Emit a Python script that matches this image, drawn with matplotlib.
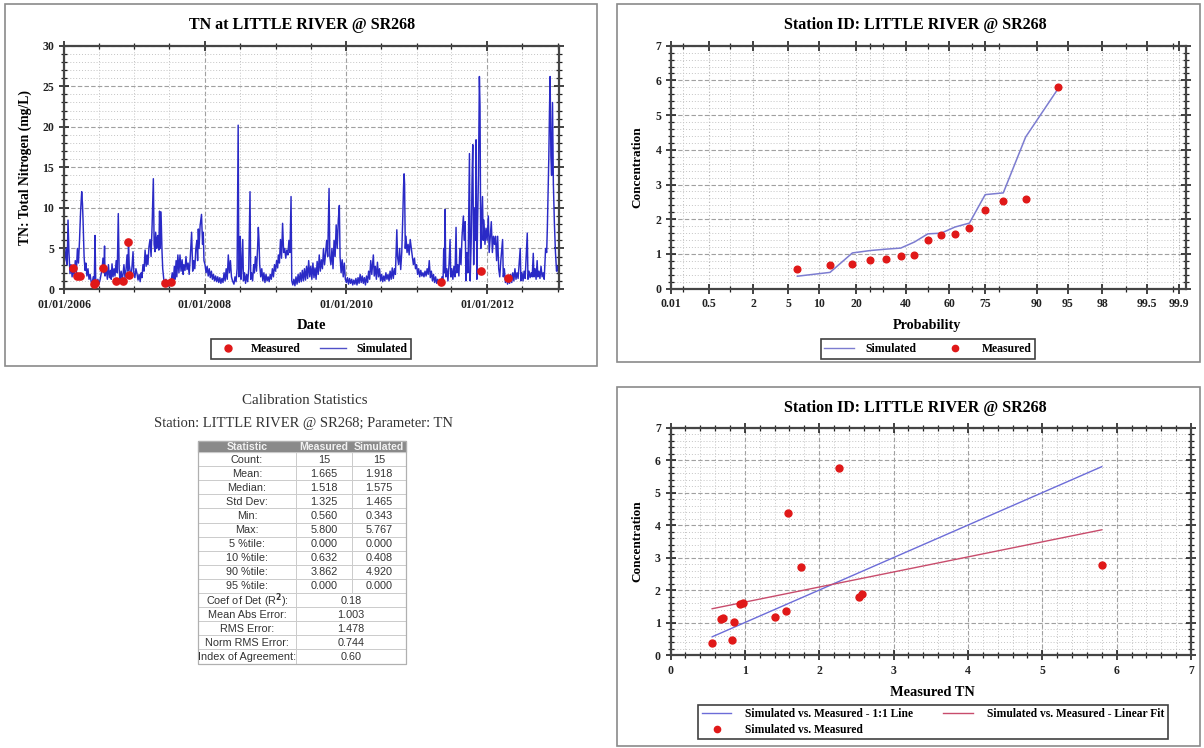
import matplotlib
matplotlib.use("Agg")
import matplotlib.pyplot as plt
import matplotlib.dates as mdates
from matplotlib.patches import Rectangle
from matplotlib.lines import Line2D
from matplotlib.ticker import MultipleLocator, FixedLocator, FixedFormatter
from statistics import NormalDist
import numpy as np
import pandas as pd

# ---- simulated daily TN (read off the chart as peaks / troughs, decimal year) ----
sim_t = [
    2006.000, 2006.014, 2006.030, 2006.045, 2006.057, 2006.070, 2006.085, 2006.100, 2006.115, 2006.128,
    2006.145, 2006.160, 2006.175, 2006.190, 2006.205, 2006.220, 2006.235, 2006.251, 2006.262, 2006.270,
    2006.285, 2006.298, 2006.310, 2006.325, 2006.340, 2006.355, 2006.370, 2006.385, 2006.397, 2006.415,
    2006.430, 2006.440, 2006.450, 2006.468, 2006.480, 2006.495, 2006.511, 2006.525, 2006.539, 2006.553,
    2006.565, 2006.575, 2006.582, 2006.600, 2006.615, 2006.630, 2006.645, 2006.660, 2006.670, 2006.681,
    2006.695, 2006.710, 2006.723, 2006.740, 2006.755, 2006.770, 2006.782, 2006.794, 2006.810, 2006.825,
    2006.837, 2006.850, 2006.865, 2006.880, 2006.894, 2006.905, 2006.915, 2006.925, 2006.936, 2006.950,
    2006.965, 2006.979, 2006.990, 2007.005, 2007.020, 2007.035, 2007.050, 2007.065, 2007.080, 2007.095,
    2007.106, 2007.120, 2007.135, 2007.150, 2007.165, 2007.177, 2007.190, 2007.205, 2007.220, 2007.235,
    2007.250, 2007.267, 2007.278, 2007.291, 2007.300, 2007.315, 2007.325, 2007.333, 2007.345, 2007.355,
    2007.365, 2007.376, 2007.390, 2007.400, 2007.415, 2007.433, 2007.445, 2007.460, 2007.475, 2007.490,
    2007.505, 2007.520, 2007.535, 2007.550, 2007.565, 2007.574, 2007.590, 2007.600, 2007.615, 2007.630,
    2007.645, 2007.660, 2007.675, 2007.690, 2007.700, 2007.716, 2007.730, 2007.745, 2007.760, 2007.775,
    2007.790, 2007.810, 2007.825, 2007.840, 2007.855, 2007.870, 2007.885, 2007.895, 2007.905, 2007.915,
    2007.930, 2007.950, 2007.965, 2007.975, 2007.985, 2008.000, 2008.015, 2008.030, 2008.045, 2008.060,
    2008.075, 2008.090, 2008.105, 2008.120, 2008.135, 2008.150, 2008.165, 2008.180, 2008.195, 2008.210,
    2008.225, 2008.240, 2008.255, 2008.270, 2008.285, 2008.300, 2008.315, 2008.330, 2008.345, 2008.360,
    2008.375, 2008.390, 2008.410, 2008.425, 2008.440, 2008.455, 2008.470, 2008.480, 2008.490, 2008.500,
    2008.510, 2008.520, 2008.535, 2008.545, 2008.560, 2008.575, 2008.590, 2008.605, 2008.620, 2008.638,
    2008.648, 2008.660, 2008.675, 2008.690, 2008.700, 2008.715, 2008.730, 2008.745, 2008.756, 2008.765,
    2008.775, 2008.790, 2008.805, 2008.820, 2008.835, 2008.850, 2008.865, 2008.880, 2008.895, 2008.910,
    2008.925, 2008.940, 2008.955, 2008.970, 2008.985, 2009.000, 2009.015, 2009.030, 2009.040, 2009.055,
    2009.070, 2009.085, 2009.100, 2009.115, 2009.130, 2009.145, 2009.160, 2009.175, 2009.190, 2009.205,
    2009.220, 2009.230, 2009.245, 2009.260, 2009.275, 2009.290, 2009.305, 2009.320, 2009.335, 2009.350,
    2009.365, 2009.380, 2009.395, 2009.410, 2009.425, 2009.440, 2009.455, 2009.470, 2009.485, 2009.500,
    2009.515, 2009.530, 2009.545, 2009.560, 2009.575, 2009.590, 2009.605, 2009.620, 2009.635, 2009.650,
    2009.665, 2009.680, 2009.695, 2009.710, 2009.725, 2009.740, 2009.759, 2009.770, 2009.785, 2009.800,
    2009.815, 2009.830, 2009.845, 2009.860, 2009.875, 2009.890, 2009.905, 2009.915, 2009.930, 2009.945,
    2009.960, 2009.975, 2009.990, 2010.005, 2010.020, 2010.035, 2010.050, 2010.065, 2010.080, 2010.095,
    2010.110, 2010.125, 2010.140, 2010.155, 2010.170, 2010.185, 2010.200, 2010.215, 2010.230, 2010.245,
    2010.260, 2010.275, 2010.290, 2010.305, 2010.320, 2010.335, 2010.350, 2010.365, 2010.387, 2010.400,
    2010.415, 2010.430, 2010.445, 2010.460, 2010.475, 2010.490, 2010.505, 2010.520, 2010.535, 2010.550,
    2010.565, 2010.580, 2010.595, 2010.610, 2010.625, 2010.640, 2010.655, 2010.670, 2010.685, 2010.700,
    2010.720, 2010.730, 2010.745, 2010.760, 2010.775, 2010.790, 2010.805, 2010.815, 2010.823, 2010.830,
    2010.840, 2010.850, 2010.865, 2010.880, 2010.895, 2010.910, 2010.925, 2010.940, 2010.955, 2010.970,
    2010.985, 2011.000, 2011.015, 2011.030, 2011.045, 2011.060, 2011.075, 2011.090, 2011.105, 2011.120,
    2011.135, 2011.150, 2011.165, 2011.180, 2011.195, 2011.210, 2011.225, 2011.240, 2011.255, 2011.270,
    2011.285, 2011.300, 2011.315, 2011.330, 2011.345, 2011.360, 2011.375, 2011.385, 2011.395, 2011.404,
    2011.415, 2011.430, 2011.445, 2011.460, 2011.475, 2011.485, 2011.500, 2011.515, 2011.530, 2011.545,
    2011.560, 2011.570, 2011.585, 2011.600, 2011.615, 2011.630, 2011.645, 2011.664, 2011.675, 2011.690,
    2011.700, 2011.715, 2011.730, 2011.750, 2011.760, 2011.775, 2011.787, 2011.797, 2011.810, 2011.820,
    2011.835, 2011.844, 2011.855, 2011.865, 2011.878, 2011.891, 2011.900, 2011.910, 2011.920, 2011.935,
    2011.945, 2011.955, 2011.970, 2011.985, 2012.000, 2012.018, 2012.030, 2012.045, 2012.060, 2012.075,
    2012.090, 2012.105, 2012.120, 2012.135, 2012.150, 2012.165, 2012.180, 2012.195, 2012.220, 2012.230,
    2012.245, 2012.260, 2012.275, 2012.290, 2012.305, 2012.320, 2012.335, 2012.350, 2012.365, 2012.380,
    2012.395, 2012.410, 2012.425, 2012.440, 2012.470, 2012.480, 2012.495, 2012.510, 2012.525, 2012.540,
    2012.570, 2012.580, 2012.595, 2012.610, 2012.625, 2012.640, 2012.655, 2012.665, 2012.680, 2012.695,
    2012.710, 2012.720, 2012.735, 2012.750, 2012.765, 2012.780, 2012.795, 2012.810, 2012.830, 2012.845,
    2012.855, 2012.865, 2012.875, 2012.885, 2012.894, 2012.905, 2012.915, 2012.928, 2012.940, 2012.955,
    2012.970, 2012.985, 2013.000, 2013.015,
]
sim_v = [
    3.2, 3.6, 5.0, 3.0, 8.5, 4.5, 1.9, 3.0, 1.5, 2.7,
    1.6, 3.5, 2.0, 5.0, 3.2, 6.0, 9.5, 12.0, 10.5, 8.5,
    4.0, 2.3, 3.2, 1.6, 2.5, 1.2, 1.8, 0.9, 0.6, 1.5,
    0.8, 6.6, 1.0, 0.3, 1.2, 0.6, 1.1, 1.8, 2.3, 3.8,
    2.0, 5.3, 1.6, 2.5, 1.2, 3.0, 1.4, 2.3, 1.2, 3.1,
    1.5, 2.5, 1.6, 3.5, 2.0, 9.3, 2.5, 1.0, 2.2, 1.2,
    1.8, 3.0, 1.4, 2.4, 4.2, 2.2, 5.5, 3.0, 2.3, 1.4,
    2.8, 4.6, 2.0, 1.4, 2.5, 1.9, 1.1, 1.8, 0.9, 2.0,
    1.4, 3.0, 2.2, 4.8, 2.8, 4.2, 3.0, 5.2, 6.1, 4.0,
    8.0, 13.6, 5.5, 4.6, 7.0, 5.0, 6.4, 6.6, 4.8, 9.6,
    5.0, 9.5, 4.6, 2.5, 1.2, 0.7, 1.2, 0.5, 0.3, 0.9,
    0.5, 1.0, 2.0, 1.0, 2.8, 1.2, 3.5, 1.5, 4.2, 2.0,
    4.2, 2.2, 3.6, 1.8, 3.0, 2.3, 4.0, 2.4, 3.2, 1.8,
    3.8, 7.0, 2.2, 3.5, 2.5, 5.0, 6.0, 3.5, 7.4, 5.0,
    7.8, 9.2, 5.5, 7.0, 3.5, 3.0, 2.0, 2.8, 1.6, 2.5,
    1.4, 2.2, 1.2, 1.8, 1.0, 1.6, 0.9, 1.5, 0.8, 1.4,
    0.7, 1.3, 0.8, 2.0, 1.0, 2.5, 1.2, 4.2, 2.0, 3.5,
    1.5, 1.0, 0.6, 1.5, 0.9, 2.5, 20.2, 1.5, 3.0, 6.5,
    1.2, 2.5, 6.1, 1.0, 2.0, 0.7, 1.8, 0.9, 2.5, 12.0,
    1.2, 2.0, 1.0, 3.0, 2.0, 4.0, 2.2, 5.0, 7.6, 6.1,
    3.0, 1.5, 2.5, 1.0, 2.0, 0.8, 1.8, 1.0, 1.5, 0.9,
    1.8, 1.2, 2.5, 1.5, 3.0, 2.2, 3.5, 2.6, 4.2, 3.2,
    6.1, 3.8, 8.1, 4.5, 5.0, 3.8, 4.8, 4.2, 6.0, 4.5,
    11.4, 1.0, 0.5, 1.2, 0.4, 1.5, 0.6, 1.8, 0.8, 2.0,
    0.9, 2.3, 1.0, 2.5, 1.1, 2.8, 1.3, 3.5, 1.5, 2.8,
    1.2, 3.2, 1.4, 2.6, 1.2, 3.4, 1.8, 4.2, 2.2, 3.6,
    2.5, 5.0, 3.0, 4.4, 6.0, 4.0, 12.4, 4.0, 3.0, 5.0,
    2.5, 6.0, 4.0, 7.9, 5.0, 8.5, 10.3, 4.0, 2.0, 3.6,
    1.5, 3.2, 1.2, 0.8, 1.4, 0.6, 1.3, 0.7, 1.2, 0.5,
    1.1, 0.6, 1.3, 0.5, 1.4, 0.7, 1.8, 0.8, 1.6, 0.7,
    1.4, 0.5, 1.6, 0.8, 2.2, 1.2, 3.5, 1.8, 4.2, 1.6,
    2.8, 1.2, 3.3, 1.5, 2.5, 1.0, 1.8, 0.9, 1.6, 1.0,
    2.0, 1.2, 1.8, 1.0, 2.2, 1.2, 2.6, 1.3, 2.5, 1.8,
    7.3, 4.0, 3.0, 5.0, 2.4, 4.5, 9.0, 12.5, 14.2, 13.0,
    5.0, 6.5, 4.5, 5.5, 4.2, 6.1, 5.0, 4.0, 3.0, 3.8,
    2.5, 3.0, 1.8, 2.5, 1.5, 2.3, 1.6, 2.0, 1.5, 2.2,
    1.6, 2.5, 1.8, 3.5, 1.4, 2.2, 1.0, 1.8, 0.8, 1.5,
    0.7, 1.2, 0.6, 1.0, 0.5, 1.5, 0.8, 5.0, 2.0, 9.8,
    1.5, 2.5, 1.0, 3.0, 6.1, 1.5, 2.5, 1.2, 2.8, 1.5,
    7.6, 2.0, 3.0, 1.6, 5.0, 3.0, 6.5, 9.0, 6.0, 8.3,
    1.0, 4.5, 2.0, 16.7, 1.0, 6.0, 13.5, 17.8, 3.0, 10.0,
    6.0, 18.4, 1.2, 8.0, 14.0, 26.2, 22.5, 5.0, 8.0, 11.4,
    6.0, 8.5, 5.5, 7.5, 6.0, 9.0, 4.5, 6.5, 8.3, 4.5,
    6.5, 5.5, 6.5, 3.5, 6.5, 2.5, 1.5, 3.5, 6.1, 1.5,
    2.5, 0.8, 1.5, 0.6, 1.2, 0.7, 1.8, 0.8, 2.0, 1.0,
    2.5, 1.2, 2.0, 1.3, 5.0, 1.0, 2.0, 1.0, 2.2, 1.3,
    6.9, 1.2, 2.2, 1.4, 2.0, 1.5, 4.4, 1.5, 2.5, 1.2,
    3.5, 1.5, 2.2, 1.3, 2.8, 1.5, 2.0, 1.2, 5.0, 4.5,
    7.6, 12.0, 16.0, 22.0, 26.2, 16.4, 14.0, 23.0, 13.0, 8.0,
    4.5, 2.2, 2.8, 1.8,
]

# ---- measured samples (time order) and simulated value on the same day ----
meas_t = [2006.13, 2006.18, 2006.22, 2006.42, 2006.44, 2006.56, 2006.74, 2006.83,
          2006.91, 2006.915, 2007.43, 2007.52, 2011.35, 2011.92, 2012.29]
meas_v = [2.575, 1.56, 1.58, 0.56, 0.68, 2.53, 0.94, 0.97,
          5.80, 1.75, 0.70, 0.83, 0.855, 2.26, 1.40]
sim_at_meas = [1.89, 1.345, 4.37, 0.36, 1.10, 1.776, 1.58, 1.60,
               2.76, 2.71, 1.14, 0.47, 1.03, 5.77, 1.17]

# plotting positions (percent) used on the probability chart
prob_pct = [6.25, 12.5, 18.75, 25.0, 31.25, 37.5, 43.75, 50.0,
            56.25, 62.5, 68.75, 75.0, 81.25, 87.5, 93.75]
prob_labels = ["0.01", "0.5", "2", "5", "10", "20", "40", "60", "75", "90", "95", "98", "99.5", "99.9"]
prob_minor = [0.2, 1, 25, 30, 50, 70, 80, 99, 99.8]

stat_rows = ["Count:", "Mean:", "Median:", "Std Dev:", "Min:", "Max:", "5 %tile:",
             "10 %tile:", "90 %tile:", "95 %tile:"]
stat_meas = ["15", "1.665", "1.518", "1.325", "0.560", "5.800", "0.000", "0.632", "3.862", "0.000"]
stat_sim = ["15", "1.918", "1.575", "1.465", "0.343", "5.767", "0.000", "0.408", "4.920", "0.000"]
fit_rows = ["Coef of Det (R$^2$):", "Mean Abs Error:", "RMS Error:", "Norm RMS Error:", "Index of Agreement:"]
fit_vals = ["0.18", "1.003", "1.478", "0.744", "0.60"]

W, H = 1204, 748
plt.rcParams["font.family"] = "Liberation Serif"
plt.rcParams["font.weight"] = "bold"
RED = "#e01818"


def rect(l, t, r, b):
    return [l / W, 1 - b / H, (r - l) / W, (b - t) / H]


def style(ax):
    for s in ax.spines.values():
        s.set_linewidth(1.6)
        s.set_color("#454545")
    ax.tick_params(which="both", direction="inout", top=True, right=True,
                   labelsize=8.5, colors="#222222")
    ax.tick_params(which="major", length=7, width=1.2)
    ax.tick_params(which="minor", length=4, width=0.9)
    ax.grid(which="major", ls=(0, (4, 2)), color="#a0a0a0", lw=0.8)
    ax.grid(which="minor", ls=(0, (1, 2)), color="#c4c4c4", lw=0.7)
    ax.set_axisbelow(True)


fig = plt.figure(figsize=(12.04, 7.48), dpi=100)
bg = fig.add_axes([0, 0, 1, 1])
bg.set_xlim(0, W)
bg.set_ylim(H, 0)
bg.axis("off")
for l, t, r, b in [(5, 4, 597, 366), (617, 4, 1200, 362), (617, 387, 1200, 746)]:
    bg.add_patch(Rectangle((l, t), r - l, b - t, fill=False, ec="#8a8a8a", lw=1.2))

# ---------------- time series ----------------
ax1 = fig.add_axes(rect(64, 45.7, 559, 289))
t0 = mdates.date2num(pd.Timestamp("2006-01-01"))
def yr2num(y):
    return t0 + (np.asarray(y) - 2006.0) * 365.25
ax1.plot(yr2num(sim_t), sim_v, color="#2a2ac6", lw=1.05, label="Simulated")
ax1.plot(yr2num(meas_t), meas_v, "o", color=RED, ms=5.2, label="Measured", zorder=5)
ax1.set_xlim(yr2num(2006.0), yr2num(2013.02))
ax1.set_ylim(0, 30)
ax1.xaxis.set_major_locator(mdates.YearLocator(base=2, month=1, day=1))
ax1.xaxis.set_major_formatter(mdates.DateFormatter("%m/%d/%Y"))
ax1.xaxis.set_minor_locator(mdates.MonthLocator(bymonth=[1, 7]))
ax1.yaxis.set_major_locator(MultipleLocator(5))
ax1.yaxis.set_minor_locator(MultipleLocator(1))
style(ax1)
h1 = [Line2D([], [], marker="o", ls="", color=RED, ms=5),
      Line2D([], [], color="#5050c8", lw=1)]
leg = ax1.legend(h1, ["Measured", "Simulated"], ncol=2, loc="center",
                 bbox_to_anchor=(311 / W, 1 - 349 / H), bbox_transform=fig.transFigure,
                 fancybox=False, edgecolor="#111111", fontsize=8.5, handlelength=2.2,
                 columnspacing=1.6, borderpad=0.3, handletextpad=0.9)
leg.get_frame().set_linewidth(1.2)

bg.text(302, 25, "TN at LITTLE RIVER @ SR268", ha="center", va="center", fontsize=11.5)
bg.text(311, 325, "Date", ha="center", va="center", fontsize=10.6)
bg.text(25, 167, "TN: Total Nitrogen (mg/L)", ha="center", va="center", rotation=90, fontsize=9.8)

# ---------------- probability plot ----------------
nd = NormalDist()
zlo, zhi = -3.02, 3.03
ax2 = fig.add_axes(rect(671, 45.7, 1185.5, 288.7))
meas_sorted = np.sort(meas_v)
sim_sorted = np.sort(sim_at_meas)
zpos = [nd.inv_cdf(p / 100) for p in prob_pct]
ax2.plot(zpos, sim_sorted, color="#7c7cd0", lw=1.1)
ax2.plot(zpos, meas_sorted, "o", color=RED, ms=4.8, zorder=5)
ax2.set_xlim(zlo, zhi)
ax2.set_ylim(0, 7)
major_z = [min(max(nd.inv_cdf(float(s) / 100), zlo), zhi - 0.08) for s in prob_labels]
ax2.xaxis.set_major_locator(FixedLocator(major_z))
ax2.xaxis.set_major_formatter(FixedFormatter(prob_labels))
ax2.xaxis.set_minor_locator(FixedLocator([nd.inv_cdf(p / 100) for p in prob_minor]))
ax2.yaxis.set_major_locator(MultipleLocator(1))
ax2.yaxis.set_minor_locator(MultipleLocator(0.2))
style(ax2)
ax2.grid(which="major", axis="x", ls=(0, (1, 2)), color="#b0b0b0", lw=0.8)
h2 = [Line2D([], [], color="#7c7cd0", lw=1),
      Line2D([], [], marker="o", ls="", color=RED, ms=4.5)]
leg = ax2.legend(h2, ["Simulated", "Measured"], ncol=2, loc="center",
                 bbox_to_anchor=(928 / W, 1 - 349 / H), bbox_transform=fig.transFigure,
                 fancybox=False, edgecolor="#111111", fontsize=8.5, handlelength=2.5,
                 columnspacing=2.0, borderpad=0.3, handletextpad=1.0)
leg.get_frame().set_linewidth(1.2)

bg.text(915, 25, "Station ID: LITTLE RIVER @ SR268", ha="center", va="center", fontsize=11.5)
bg.text(927, 325, "Probability", ha="center", va="center", fontsize=10.2)
bg.text(637, 167, "Concentration", ha="center", va="center", rotation=90, fontsize=9.5)

# ---------------- scatter ----------------
ax3 = fig.add_axes(rect(670.5, 427.7, 1191, 655))
xm = np.array(meas_v)
ys = np.array(sim_at_meas)
lo, hi = xm.min(), xm.max()
slope, icpt = np.polyfit(xm, ys, 1)
ax3.plot([lo, hi], [lo, hi], color="#6c6cd8", lw=1.0)
ax3.plot([lo, hi], [icpt + slope * lo, icpt + slope * hi], color="#c84c6c", lw=1.0)
ax3.plot(xm, ys, "o", color=RED, ms=5, zorder=5)
ax3.set_xlim(0, 7)
ax3.set_ylim(0, 7)
ax3.xaxis.set_major_locator(MultipleLocator(1))
ax3.xaxis.set_minor_locator(MultipleLocator(0.2))
ax3.yaxis.set_major_locator(MultipleLocator(1))
ax3.yaxis.set_minor_locator(MultipleLocator(0.2))
style(ax3)
h3 = [Line2D([], [], color="#6c6cd8", lw=1),
      Line2D([], [], marker="o", ls="", color=RED, ms=4.5),
      Line2D([], [], color="#c84c6c", lw=1)]
leg = ax3.legend(h3, ["Simulated vs. Measured - 1:1 Line", "Simulated vs. Measured",
                      "Simulated vs. Measured - Linear Fit"],
                 ncol=2, loc="center", bbox_to_anchor=(933 / W, 1 - 722 / H),
                 bbox_transform=fig.transFigure, fancybox=False, edgecolor="#111111",
                 fontsize=8.3, handlelength=2.6, columnspacing=2.6, borderpad=0.3,
                 handletextpad=1.2, labelspacing=0.3)
leg.get_frame().set_linewidth(1.2)

bg.text(915, 408, "Station ID: LITTLE RIVER @ SR268", ha="center", va="center", fontsize=11.5)
bg.text(932, 692, "Measured TN", ha="center", va="center", fontsize=10.4)
bg.text(637, 541, "Concentration", ha="center", va="center", rotation=90, fontsize=9.5)

# ---------------- statistics table ----------------
bg.text(305, 400, "Calibration Statistics", ha="center", va="center",
        fontsize=10.8, fontweight="normal", color="#333333")
bg.text(303, 423, "Station: LITTLE RIVER @ SR268; Parameter: TN", ha="center", va="center",
        fontsize=10.5, fontweight="normal", color="#333333")

cols = [198, 296, 352, 406]
top, hh, rh = 441, 11, 14.1
SANS = "Liberation Sans"
bg.add_patch(Rectangle((cols[0], top), cols[3] - cols[0], hh, fc="#8a8a8a", ec="#8a8a8a", lw=0.8))
for i, txt in enumerate(["Statistic", "Measured", "Simulated"]):
    bg.text((cols[i] + cols[i + 1]) / 2, top + hh / 2 + 0.5, txt, ha="center", va="center",
            fontsize=7.6, family=SANS, fontweight="bold", color="#f2f2f2")
y = top + hh
for lab, m, s in zip(stat_rows, stat_meas, stat_sim):
    for i in range(3):
        bg.add_patch(Rectangle((cols[i], y), cols[i + 1] - cols[i], rh, fill=False,
                               ec="#cccccc", lw=0.7))
    for i, txt in enumerate([lab, m, s]):
        bg.text((cols[i] + cols[i + 1]) / 2, y + rh / 2 + 0.5, txt, ha="center", va="center",
                fontsize=7.8, family=SANS, fontweight="normal", color="#333333")
    y += rh
for lab, v in zip(fit_rows, fit_vals):
    bg.add_patch(Rectangle((cols[0], y), cols[1] - cols[0], rh, fill=False, ec="#cccccc", lw=0.7))
    bg.add_patch(Rectangle((cols[1], y), cols[3] - cols[1], rh, fill=False, ec="#cccccc", lw=0.7))
    bg.text((cols[0] + cols[1]) / 2, y + rh / 2 + 0.5, lab, ha="center", va="center",
            fontsize=7.8, family=SANS, fontweight="normal", color="#333333")
    bg.text((cols[1] + cols[3]) / 2, y + rh / 2 + 0.5, v, ha="center", va="center",
            fontsize=7.8, family=SANS, fontweight="normal", color="#333333")
    y += rh
bg.add_patch(Rectangle((cols[0], top), cols[3] - cols[0], y - top, fill=False, ec="#b0b0b0", lw=0.9))

fig.savefig("out.png", dpi=100)
